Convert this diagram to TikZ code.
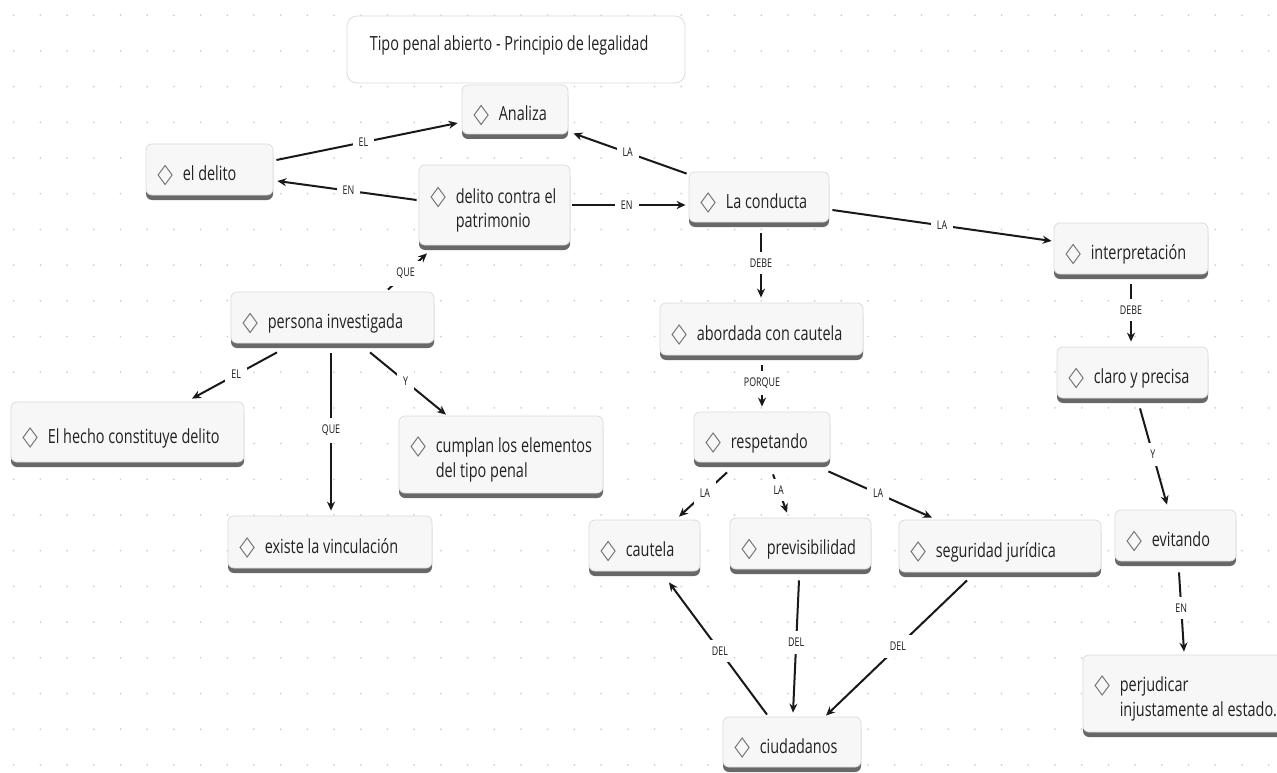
\documentclass[tikz,border=0pt]{standalone}
\usepackage{fontspec}
\setmainfont{Open Sans}[FakeStretch=0.74]
\usetikzlibrary{arrows.meta,shadows,calc}
\definecolor{boxfill}{HTML}{F7F7F7}
\definecolor{boxline}{HTML}{DCDCDC}
\definecolor{barcol}{HTML}{686868}
\definecolor{txt}{HTML}{222222}
\definecolor{dotcol}{HTML}{D0D0D0}
\definecolor{iconcol}{HTML}{777777}
\tikzset{
 cbox/.style={draw=boxline, fill=boxfill, line width=0.8pt, rounded corners=6pt, inner sep=0pt,
   drop shadow={shadow xshift=0pt, shadow yshift=-5pt, opacity=1, fill=barcol}},
 ctext/.style={anchor=base west, inner sep=0pt, text=txt, font=\fontsize{19.5}{24}\selectfont},
 iconstyle/.style={draw=iconcol, line width=1pt, line join=miter},
 conn/.style={line width=2pt, draw=black!90, -{Stealth[length=9pt,width=8pt]}},
 lbl/.style={fill=white, inner xsep=6pt, inner ysep=7pt, text=black!90, font=\fontsize{12}{14}\selectfont},
}
\newcommand\cboxA[6]{%
  \node[cbox, minimum width={(#4)-(#2)}, minimum height={(#5)-(#3)-5}] (#1) at ({((#2)+(#4))/2},{((#3)+(#5)-5)/2}) {};
  \node[ctext] (#1-t) at ([xshift=37pt,yshift=-11pt]#1.west) {#6};
  \draw[iconstyle] ([xshift=12.5pt,yshift=-5.5pt]#1.west) -- ++(7pt,9.5pt) -- ++(7pt,-9.5pt) -- ++(-7pt,-9.5pt) -- cycle;
}
\newcommand\cboxB[7]{%
  \node[cbox, minimum width={(#4)-(#2)}, minimum height={(#5)-(#3)-5}] (#1) at ({((#2)+(#4))/2},{((#3)+(#5)-5)/2}) {};
  \node[ctext] (#1-t) at ([xshift=37pt,yshift=2pt]#1.west) {#6};
  \node[ctext] (#1-u) at ([xshift=37pt,yshift=-22.5pt]#1.west) {#7};
  \draw[iconstyle] ([xshift=12.5pt,yshift=8pt]#1.west) -- ++(7pt,9.5pt) -- ++(7pt,-9.5pt) -- ++(-7pt,-9.5pt) -- cycle;
}
\begin{document}
\begin{tikzpicture}[x=1pt,y=-1pt]
\useasboundingbox (0,0) rectangle (1277,773);
\clip (0,0) rectangle (1277,773);
\fill[white] (0,0) rectangle (1277,773);
\foreach \i in {0,...,47} \foreach \j in {0,...,21}
  \fill[dotcol] ({13.7+\i*26.7},{15.2+\j*35.7}) circle (1pt);

% title
\node[draw=boxline, fill=white, line width=0.8pt, rounded corners=10pt, minimum width=338pt, minimum height=67pt, inner sep=0pt] (title) at (516,49.5) {};
\node[ctext] (title-t) at ([xshift=23pt,yshift=-1.5pt]title.west) {Tipo penal abierto - Principio de legalidad};

\cboxA{analiza}{462}{85}{568}{139}{Analiza}
\cboxA{eldelito}{146}{144}{273}{200}{el delito}
\cboxB{contra}{419}{165}{570}{250}{delito contra el}{patrimonio}
\cboxA{conducta}{689}{172}{829}{227}{La conducta}
\cboxA{interp}{1054}{223}{1208}{279}{interpretación}
\cboxA{persona}{231}{292}{434}{348}{persona investigada}
\cboxA{abordada}{660}{303}{863}{360}{abordada con cautela}
\cboxA{claro}{1057}{347}{1208}{403}{claro y precisa}
\cboxA{hecho}{11}{402}{244}{467}{El hecho constituye delito}
\cboxB{cumplan}{399}{416}{603}{498}{cumplan los elementos}{del tipo penal}
\cboxA{respetando}{694}{412}{830}{467}{respetando}
\cboxA{existe}{228}{516}{432}{573}{existe la vinculación}
\cboxA{cautela}{589}{520}{700}{576}{cautela}
\cboxA{previs}{730}{518}{871}{574}{previsibilidad}
\cboxA{seguridad}{899}{520}{1101}{577}{seguridad jurídica}
\cboxA{evitando}{1115}{510}{1236}{566}{evitando}
\cboxB{perjud}{1083}{655}{1290}{737}{perjudicar}{injustamente al estado.}
\cboxA{ciud}{723}{717}{861}{772}{ciudadanos}

% connectors
\draw[conn] ([xshift=3pt,yshift=9.5pt]eldelito.east) -- node[lbl,pos=.48]{EL} ([xshift=-4pt,yshift=-13.5pt]analiza.west);
\draw[conn] ([xshift=-2pt,yshift=5pt]contra.west) -- node[lbl,pos=.49]{EN} ([xshift=4pt,yshift=-11.5pt]eldelito.east);
\draw[conn] ([xshift=-2pt,yshift=-2pt]conducta.north west) -- node[lbl,pos=.52]{LA} ([xshift=5pt,yshift=1pt]analiza.south east);
\draw[conn] ([xshift=2pt]contra.east) -- node[lbl,pos=.48]{EN} ([xshift=-3pt,yshift=-8pt]conducta.west);
\draw[conn] ([xshift=3pt,yshift=-13pt]conducta.east) -- node[lbl,pos=.5]{LA} ([xshift=-2pt,yshift=7.5pt]interp.west);
\draw[conn] ([xshift=2pt,yshift=-11pt]conducta.south) -- node[lbl,pos=.46]{DEBE} ([xshift=-0.5pt,yshift=5pt]abordada.north);
\draw[conn] ([xshift=0.5pt,yshift=-10pt]abordada.south) -- node[lbl,pos=.43]{PORQUE} ([yshift=5pt]respetando.north);
\draw[conn] ([yshift=-10pt]interp.south) -- node[lbl,pos=.45]{DEBE} ([xshift=-1.5pt,yshift=5pt]claro.north);
\draw[conn] ([xshift=7.5pt,yshift=-10pt]claro.south) -- node[lbl,pos=.48]{Y} ([xshift=-8.5pt,yshift=5pt]evitando.north);
\draw[conn] ([xshift=3.5pt,yshift=-11pt]evitando.south) -- node[lbl,pos=.45]{EN} ([xshift=-2.5pt,yshift=3pt]perjud.north);
\draw[conn] ([xshift=55.5pt,yshift=2pt]persona.north) -- node[lbl,pos=.45]{QUE} ([xshift=-67.5pt,yshift=-8pt]contra.south);
\draw[conn] ([xshift=-55.5pt,yshift=-9pt]persona.south) -- node[lbl,pos=.48]{EL} ([xshift=64.5pt,yshift=3pt]hecho.north);
\draw[conn] ([xshift=-1.5pt,yshift=-10pt]persona.south) -- node[lbl,pos=.49]{QUE} ([xshift=1pt,yshift=5pt]existe.north);
\draw[conn] ([xshift=37.5pt,yshift=-9pt]persona.south) -- node[lbl,pos=.47]{Y} ([xshift=-55pt,yshift=1pt]cumplan.north);
\draw[conn] ([xshift=-35pt,yshift=-10pt]respetando.south) -- node[lbl,pos=.46]{LA} ([xshift=34.5pt,yshift=3pt]cautela.north);
\draw[conn] ([xshift=11pt,yshift=-12pt]respetando.south) -- node[lbl,pos=.41]{LA} ([xshift=-13.5pt,yshift=5pt]previs.north);
\draw[conn] ([xshift=-2pt,yshift=-9pt]respetando.south east) -- node[lbl,pos=.48]{LA} ([xshift=-68pt,yshift=2pt]seguridad.north);
\draw[conn] ([xshift=-25pt,yshift=2pt]ciud.north) -- node[lbl,pos=.48]{DEL} ([xshift=24.5pt,yshift=-11pt]cautela.south);
\draw[conn] ([xshift=-1.5pt,yshift=-11pt]previs.south) -- node[lbl,pos=.47]{DEL} ([xshift=1pt,yshift=4pt]ciud.north);
\draw[conn] ([xshift=-33pt,yshift=-8pt]seguridad.south) -- node[lbl,pos=.49]{DEL} ([xshift=34pt,yshift=1pt]ciud.north);
\end{tikzpicture}
\end{document}
